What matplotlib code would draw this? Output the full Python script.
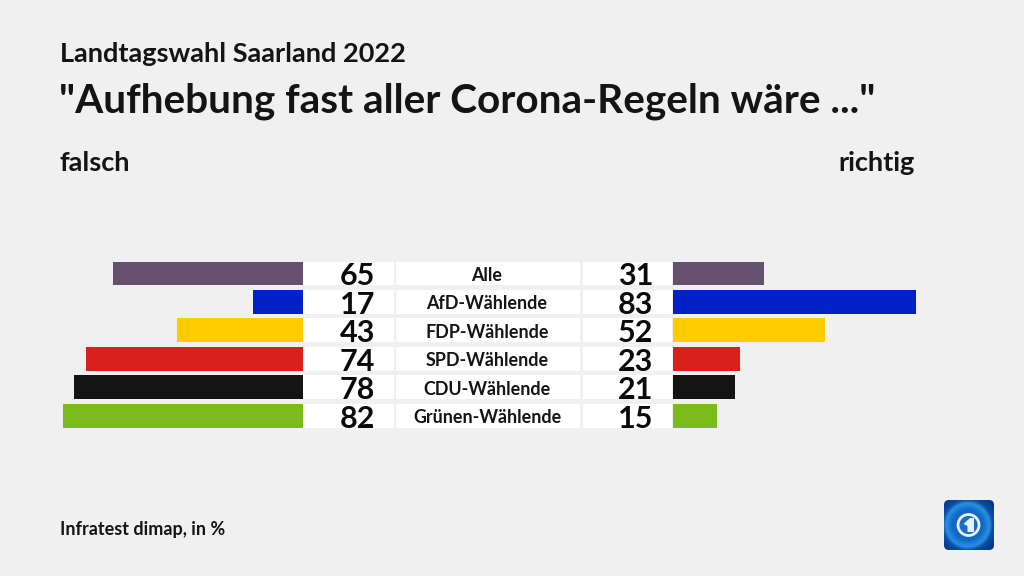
#!/usr/bin/env python3
"""Landtagswahl Saarland 2022: opposed bars, falsch vs richtig."""
import numpy as np
import matplotlib
matplotlib.use('Agg')
import matplotlib.pyplot as plt
from matplotlib.colors import LinearSegmentedColormap
from matplotlib.patches import Rectangle, FancyBboxPatch, Circle, Polygon

groups = ['Alle', 'AfD-Wählende', 'FDP-Wählende', 'SPD-Wählende', 'CDU-Wählende', 'Grünen-Wählende']
falsch = [65, 17, 43, 74, 78, 82]
richtig = [31, 83, 52, 23, 21, 15]
colors = ['#66506f', '#0022c4', '#ffcc00', '#d8201c', '#141414', '#7bbb1c']

W, H = 1024, 576
BG = '#f0f0f0'
PX_PER_UNIT = 2.93
ROW_TOP = 261.5
ROW_PITCH = 28.45
BAR_H = 23.8

plt.rcParams['font.family'] = ['Lato', 'DejaVu Sans']
fig = plt.figure(figsize=(W / 100, H / 100), dpi=100, facecolor=BG)


def px_axes(x0, y0, x1, y1):
    """Axes placed by pixel box, y counted from the top of the image."""
    ax = fig.add_axes([x0 / W, 1 - y1 / H, (x1 - x0) / W, (y1 - y0) / H])
    ax.axis('off')
    return ax


# Overlay in pixel coordinates for the white cells, texts and logo
bg = px_axes(0, 0, W, H)
bg.set_xlim(0, W)
bg.set_ylim(H, 0)

row_y = [ROW_TOP + i * ROW_PITCH for i in range(len(groups))]
for y, g, f, r in zip(row_y, groups, falsch, richtig):
    for x0, x1 in [(303, 393.5), (396, 580), (582.5, 672)]:
        bg.add_patch(Rectangle((x0, y), x1 - x0, BAR_H, fc='white', ec='none'))
    bg.text(375, y + BAR_H / 2 + 0.5, str(f), ha='right', va='center_baseline', fontsize=22,
            fontweight='bold', color='#0a0a0a')
    bg.text(487, y + BAR_H / 2 + 0.5, g, ha='center', va='center_baseline', fontsize=12.9,
            fontweight='bold', color='#141414')
    bg.text(653, y + BAR_H / 2 + 0.5, str(r), ha='right', va='center_baseline', fontsize=22,
            fontweight='bold', color='#0a0a0a')

# Bars
top, bottom = ROW_TOP, ROW_TOP + 5 * ROW_PITCH + BAR_H
ylim = ((bottom - ROW_TOP) / ROW_PITCH - BAR_H / ROW_PITCH / 2, -BAR_H / ROW_PITCH / 2)

ax_l = px_axes(303 - 90 * PX_PER_UNIT, top, 303, bottom)
ax_l.barh(range(len(groups)), falsch, height=BAR_H / ROW_PITCH, color=colors)
ax_l.set_xlim(90, 0)
ax_l.set_ylim(*ylim)

ax_r = px_axes(673, top, 673 + 90 * PX_PER_UNIT, bottom)
ax_r.barh(range(len(groups)), richtig, height=BAR_H / ROW_PITCH, color=colors)
ax_r.set_xlim(0, 90)
ax_r.set_ylim(*ylim)

# Headings
bg.text(60, 52, 'Landtagswahl Saarland 2022', fontsize=19.5, fontweight='bold', color='#141414',
        ha='left', va='center_baseline')
bg.text(59, 98, '"Aufhebung fast aller Corona-Regeln wäre ..."', fontsize=29.2, fontweight='bold',
        color='#141414', ha='left', va='center_baseline')
bg.text(59, 161, 'falsch', fontsize=19.5, fontweight='bold', color='#141414', ha='left', va='center_baseline')
bg.text(915, 161, 'richtig', fontsize=19.5, fontweight='bold', color='#141414', ha='right', va='center_baseline')
bg.text(60, 528, 'Infratest dimap, in %', fontsize=13, fontweight='bold', color='#141414',
        ha='left', va='center_baseline')

# Logo
gx, gy = np.meshgrid(np.linspace(-1, 1, 80), np.linspace(-1, 1, 80))
grad = np.sqrt((gx + 0.05) ** 2 + gy ** 2)
cmap = LinearSegmentedColormap.from_list(
    'logo', [(0, '#0a55ad'), (0.45, '#0f6cc8'), (0.62, '#2c8fe2'), (0.72, '#0b4fa6'), (1, '#03307f')])
im = bg.imshow(grad, extent=(944, 994, 550, 500), cmap=cmap, vmin=0, vmax=1.41, aspect='auto', zorder=2)
box = FancyBboxPatch((944, 500), 50, 50, boxstyle='round,pad=0,rounding_size=5', fc='none', ec='none')
bg.add_patch(box)
im.set_clip_path(box)
bg.add_patch(Circle((968.5, 525), 10.5, fc='#1a6cc4', ec='#e8f2fb', lw=2, zorder=3))
bg.add_patch(Polygon([(963.5, 524), (970, 518), (974, 518), (974, 532), (967.5, 532), (967.5, 526)],
                     closed=True, fc='#e8f2fb', ec='none', zorder=4))
bg.set_xlim(0, W)
bg.set_ylim(H, 0)

plt.savefig('out.png', dpi=100, facecolor=BG)
